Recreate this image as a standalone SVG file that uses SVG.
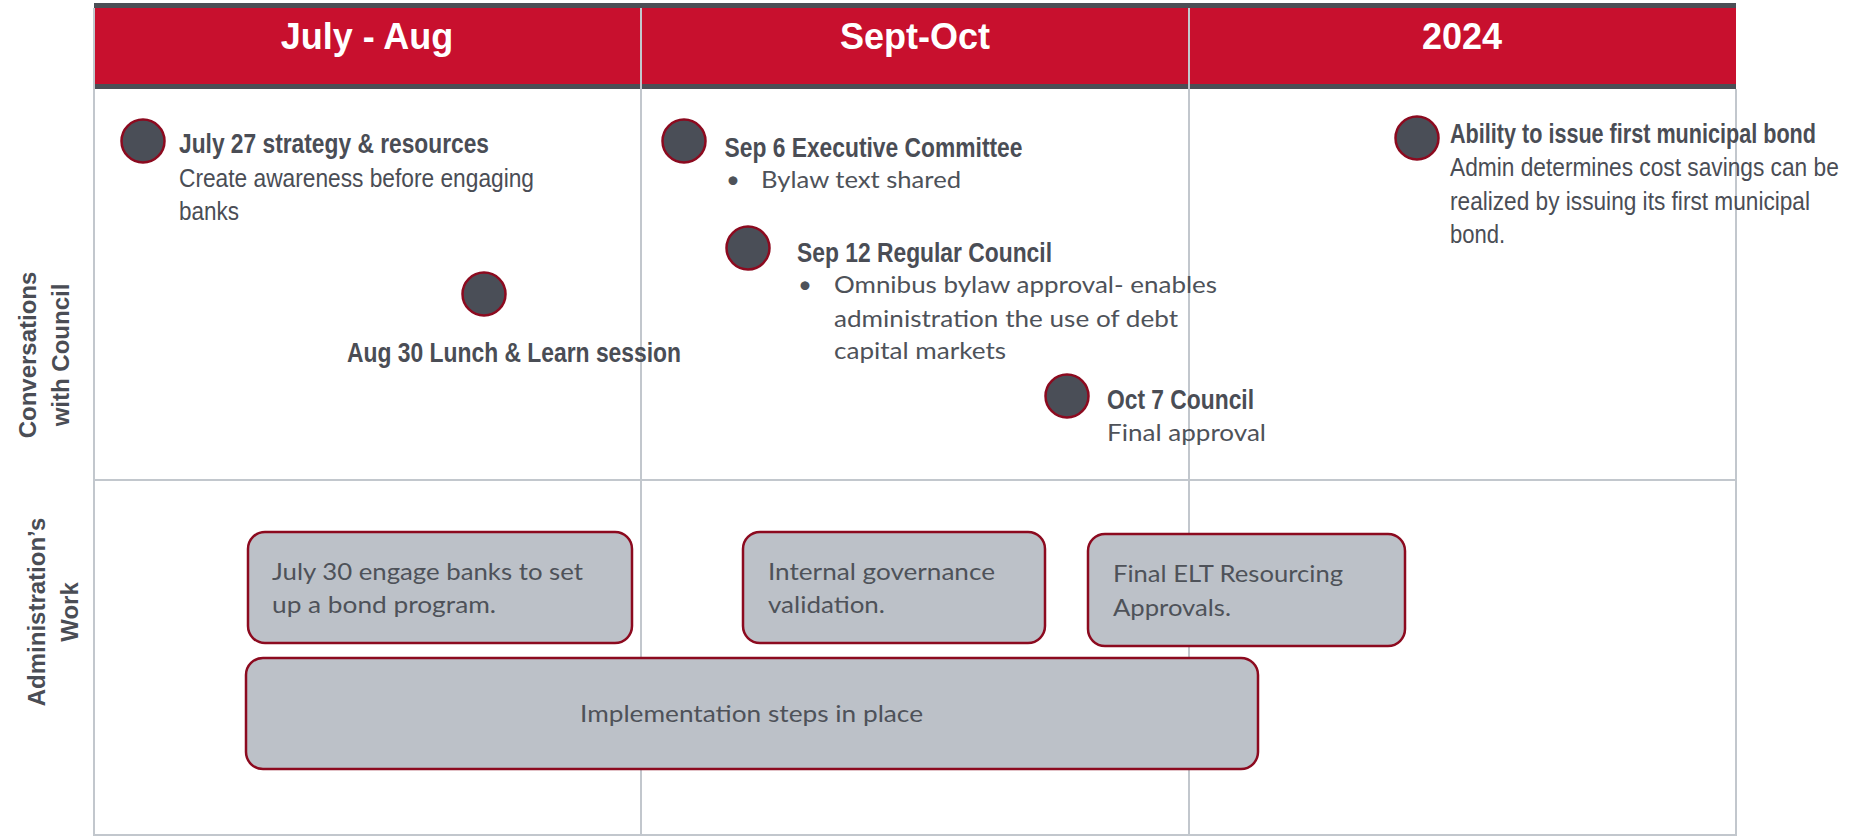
<svg xmlns="http://www.w3.org/2000/svg" width="1849" height="836" viewBox="0 0 1849 836">
<style>
.grid{stroke:#c2c7cd;stroke-width:2;fill:none}
.hdr{font-family:"Liberation Sans",Arial,sans-serif;font-weight:bold;font-size:36px;fill:#ffffff;text-anchor:middle}
.lane{font-family:"Liberation Sans",Arial,sans-serif;font-weight:bold;font-size:24px;fill:#4a4d55;text-anchor:middle}
.dot{fill:#4a4e57;stroke:#8c0a1f;stroke-width:2.5}
.hb{font-family:"Liberation Sans",Arial,sans-serif;font-weight:bold;font-size:27px;fill:#4a4d55}
.hr{font-family:"Liberation Sans",Arial,sans-serif;font-size:25px;fill:#4a4d55}
.cb{font-family:Lato,"Open Sans",sans-serif;font-size:24px;fill:#4e5259}
.box{fill:#bcc1c8;stroke:#8c0a1f;stroke-width:2.5}
</style>
<rect x="0" y="0" width="1849" height="836" fill="#ffffff"/>
<g id="header">
<rect x="94" y="4" width="1642" height="85" fill="#c8102e"/>
<rect x="94" y="3" width="1642" height="5" fill="#4b4e55"/>
<rect x="94" y="84" width="1642" height="5" fill="#4b4e55"/>
<text class="hdr" x="367" y="49">July - Aug</text>
<text class="hdr" x="915" y="49">Sept-Oct</text>
<text class="hdr" x="1462" y="49">2024</text>
</g>
<g id="grid">
<line class="grid" x1="94" y1="8" x2="94" y2="836"/>
<line class="grid" x1="641" y1="8" x2="641" y2="836"/>
<line class="grid" x1="1189" y1="8" x2="1189" y2="836"/>
<line class="grid" x1="1736" y1="89" x2="1736" y2="836"/>
<line class="grid" x1="94" y1="480" x2="1736" y2="480"/>
<line class="grid" x1="94" y1="835" x2="1736" y2="835"/>
</g>
<g id="lane-labels">
<text class="lane" transform="translate(36,355) rotate(-90)">Conversations</text>
<text class="lane" transform="translate(69,355) rotate(-90)">with Council</text>
<text class="lane" transform="translate(45,612) rotate(-90)">Administration’s</text>
<text class="lane" transform="translate(78,612) rotate(-90)">Work</text>
</g>
<g id="connectors"></g>
<g id="ev-july27">
<circle class="dot" cx="143" cy="141" r="21.5"/>
<text class="hb" x="179" y="153" textLength="310" lengthAdjust="spacingAndGlyphs">July 27 strategy &amp; resources</text>
<text class="hr" x="179" y="187" textLength="355" lengthAdjust="spacingAndGlyphs">Create awareness before engaging</text>
<text class="hr" x="179" y="220" textLength="60" lengthAdjust="spacingAndGlyphs">banks</text>
</g>
<g id="ev-aug30">
<circle class="dot" cx="484" cy="294" r="21.5"/>
<text class="hb" x="347" y="362" textLength="334" lengthAdjust="spacingAndGlyphs">Aug 30 Lunch &amp; Learn session</text>
</g>
<g id="ev-sep6">
<circle class="dot" cx="684" cy="141" r="21.5"/>
<text class="hb" x="724.5" y="157" textLength="298" lengthAdjust="spacingAndGlyphs">Sep 6 Executive Committee</text>
<text class="cb" x="726" y="188">•</text>
<text class="cb" x="761" y="188" textLength="200" lengthAdjust="spacingAndGlyphs">Bylaw text shared</text>
</g>
<g id="ev-sep12">
<circle class="dot" cx="748" cy="248" r="21.5"/>
<text class="hb" x="797" y="262" textLength="255" lengthAdjust="spacingAndGlyphs">Sep 12 Regular Council</text>
<text class="cb" x="798" y="293">•</text>
<text class="cb" x="834" y="293" textLength="383" lengthAdjust="spacingAndGlyphs">Omnibus bylaw approval- enables</text>
<text class="cb" x="834" y="327" textLength="344" lengthAdjust="spacingAndGlyphs">administration the use of debt</text>
<text class="cb" x="834" y="359" textLength="172" lengthAdjust="spacingAndGlyphs">capital markets</text>
</g>
<g id="ev-oct7">
<circle class="dot" cx="1067" cy="396" r="21.5"/>
<text class="hb" x="1107" y="409" textLength="147" lengthAdjust="spacingAndGlyphs">Oct 7 Council</text>
<text class="cb" x="1107" y="441" textLength="159" lengthAdjust="spacingAndGlyphs">Final approval</text>
</g>
<g id="ev-2024">
<circle class="dot" cx="1417" cy="138" r="21.5"/>
<text class="hb" transform="translate(1450,143) scale(0.8,1)" x="0" y="0" textLength="457.5" lengthAdjust="spacingAndGlyphs">Ability to issue first municipal bond</text>
<text class="hr" transform="translate(1450,176) scale(0.8,1)" x="0" y="0" textLength="486" lengthAdjust="spacingAndGlyphs">Admin determines cost savings can be</text>
<text class="hr" transform="translate(1450,210) scale(0.8,1)" x="0" y="0" textLength="450" lengthAdjust="spacingAndGlyphs">realized by issuing its first municipal</text>
<text class="hr" transform="translate(1450,243) scale(0.8,1)" x="0" y="0" textLength="69" lengthAdjust="spacingAndGlyphs">bond.</text>
</g>
<g id="box-july30">
<rect class="box" x="248" y="532" width="384" height="111" rx="17"/>
<text class="cb" x="272" y="580" textLength="311" lengthAdjust="spacingAndGlyphs">July 30 engage banks to set</text>
<text class="cb" x="272" y="613" textLength="224" lengthAdjust="spacingAndGlyphs">up a bond program.</text>
</g>
<g id="box-internal">
<rect class="box" x="743" y="532" width="302" height="111" rx="17"/>
<text class="cb" x="768" y="580" textLength="227" lengthAdjust="spacingAndGlyphs">Internal governance</text>
<text class="cb" x="768" y="613" textLength="117" lengthAdjust="spacingAndGlyphs">validation.</text>
</g>
<g id="box-elt">
<rect class="box" x="1088" y="534" width="317" height="112" rx="17"/>
<text class="cb" x="1113" y="582" textLength="230" lengthAdjust="spacingAndGlyphs">Final ELT Resourcing</text>
<text class="cb" x="1113" y="616" textLength="118" lengthAdjust="spacingAndGlyphs">Approvals.</text>
</g>
<g id="box-impl">
<rect class="box" x="246" y="658" width="1012" height="111" rx="17"/>
<text class="cb" x="580" y="722" textLength="343" lengthAdjust="spacingAndGlyphs">Implementation steps in place</text>
</g>
</svg>
